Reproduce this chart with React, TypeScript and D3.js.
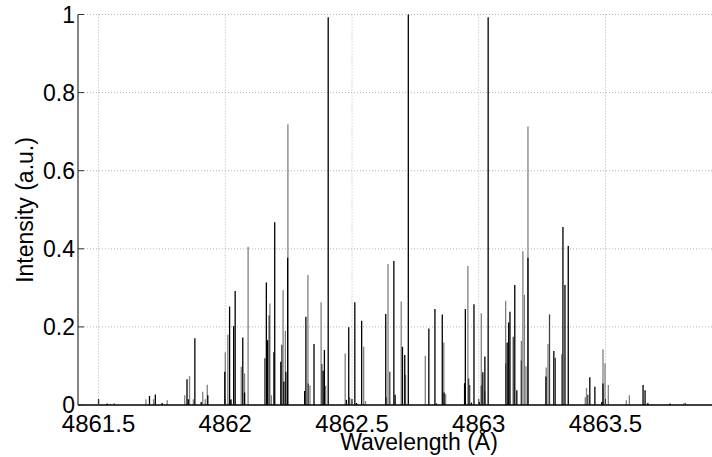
import React from "react";
import * as d3 from "d3";

const blackWl = [4861.500, 4861.534, 4861.701, 4861.724, 4861.751, 4861.849, 4861.854, 4861.880, 4861.905, 4861.931, 4861.998, 4862.017, 4862.022, 4862.033, 4862.039, 4862.069, 4862.076, 4862.162, 4862.167, 4862.195, 4862.219, 4862.231, 4862.239, 4862.246, 4862.313, 4862.318, 4862.350, 4862.386, 4862.391, 4862.406, 4862.478, 4862.487, 4862.511, 4862.518, 4862.538, 4862.633, 4862.665, 4862.670, 4862.699, 4862.708, 4862.722, 4862.803, 4862.827, 4862.833, 4862.856, 4862.863, 4862.944, 4862.947, 4862.971, 4862.981, 4863.002, 4863.016, 4863.024, 4863.037, 4863.112, 4863.118, 4863.123, 4863.142, 4863.150, 4863.194, 4863.265, 4863.296, 4863.332, 4863.340, 4863.353, 4863.438, 4863.458, 4863.485, 4863.490, 4863.648, 4863.656, 4863.667, 4863.754];
const blackInt = [0.015, 0.004, 0.023, 0.027, 0.005, 0.066, 0.015, 0.171, 0.008, 0.025, 0.085, 0.252, 0.015, 0.202, 0.292, 0.173, 0.032, 0.314, 0.166, 0.468, 0.111, 0.060, 0.085, 0.377, 0.036, 0.226, 0.156, 0.088, 0.141, 0.993, 0.013, 0.199, 0.263, 0.005, 0.216, 0.233, 0.369, 0.026, 0.149, 0.128, 1.000, 0.196, 0.246, 0.004, 0.232, 0.032, 0.056, 0.246, 0.006, 0.258, 0.008, 0.084, 0.124, 0.993, 0.160, 0.211, 0.239, 0.307, 0.038, 0.377, 0.073, 0.138, 0.456, 0.307, 0.407, 0.071, 0.047, 0.008, 0.055, 0.051, 0.038, 0.005, 0.004];

const grayWl = [4861.546, 4861.562, 4861.687, 4861.717, 4861.771, 4861.840, 4861.859, 4861.874, 4861.911, 4861.921, 4861.929, 4862.000, 4862.010, 4862.023, 4862.063, 4862.076, 4862.090, 4862.176, 4862.182, 4862.228, 4862.237, 4862.247, 4862.326, 4862.334, 4862.378, 4862.396, 4862.473, 4862.491, 4862.499, 4862.546, 4862.553, 4862.636, 4862.642, 4862.694, 4862.711, 4862.789, 4862.862, 4862.869, 4862.957, 4863.010, 4863.024, 4863.106, 4863.168, 4863.174, 4863.180, 4863.186, 4863.194, 4863.266, 4863.273, 4863.327, 4863.420, 4863.425, 4863.490, 4863.498, 4863.511, 4863.582, 4863.594, 4863.810, 4863.815];
const grayInt = [0.003, 0.005, 0.015, 0.015, 0.012, 0.025, 0.074, 0.015, 0.034, 0.015, 0.052, 0.135, 0.180, 0.012, 0.098, 0.081, 0.405, 0.260, 0.025, 0.294, 0.190, 0.719, 0.333, 0.050, 0.263, 0.049, 0.132, 0.019, 0.015, 0.149, 0.010, 0.020, 0.361, 0.265, 0.077, 0.126, 0.160, 0.028, 0.356, 0.235, 0.035, 0.267, 0.164, 0.394, 0.282, 0.099, 0.713, 0.096, 0.156, 0.130, 0.020, 0.044, 0.143, 0.107, 0.051, 0.012, 0.025, 0.005, 0.006];

const darkWl = [4862.156, 4862.173, 4862.191, 4862.223, 4862.327, 4862.381, 4862.649, 4862.960, 4862.964, 4863.010, 4863.106, 4863.136, 4863.168, 4863.279, 4863.302, 4863.430];
const darkInt = [0.120, 0.230, 0.135, 0.154, 0.055, 0.105, 0.085, 0.068, 0.051, 0.050, 0.107, 0.175, 0.114, 0.232, 0.121, 0.026];

const xTicks = [4861.5, 4862, 4862.5, 4863, 4863.5];
const xTickLabels = ["4861.5", "4862", "4862.5", "4863", "4863.5"];
const yTicks = [0, 0.2, 0.4, 0.6, 0.8, 1];
const yTickLabels = ["0", "0.2", "0.4", "0.6", "0.8", "1"];

const W = 712;
const H = 457;
const left = 78;
const right = 712;
const top = 14.5;
const bottom = 405;
const font = "'Liberation Sans', Arial, Helvetica, sans-serif";

export default function App() {
  const x = d3.scaleLinear().domain([4861.419, 4863.92]).range([left, right]);
  const y = d3.scaleLinear().domain([0, 1]).range([bottom, top]);

  const sticks = (wl: number[], vals: number[], color: string, w: number, key: string) =>
    wl.map((d, i) => (
      <line
        key={key + i}
        x1={x(d)}
        x2={x(d)}
        y1={y(0)}
        y2={y(vals[i])}
        stroke={color}
        strokeWidth={w}
      />
    ));

  return (
    <svg
      width={W}
      height={H}
      style={{ position: "absolute", left: 0, top: 0, background: "#fff" }}
    >
      <rect x={0} y={0} width={W} height={H} fill="#fff" />
      {/* grid */}
      {xTicks.map((t, i) => (
        <line key={"gx" + i} x1={x(t)} x2={x(t)} y1={top} y2={bottom} stroke="#b4b4b4" strokeWidth={1} strokeDasharray="1,2" />
      ))}
      {yTicks.slice(1).map((t, i) => (
        <line key={"gy" + i} x1={left} x2={right} y1={y(t)} y2={y(t)} stroke="#b4b4b4" strokeWidth={1} strokeDasharray="1,2" />
      ))}
      {/* sticks */}
      {sticks(grayWl, grayInt, "#808080", 1.3, "g")}
      {sticks(darkWl, darkInt, "#404040", 1.3, "d")}
      {sticks(blackWl, blackInt, "#000", 1.3, "b")}
      {/* axes */}
      <line x1={left} x2={left} y1={top} y2={bottom} stroke="#333" strokeWidth={1.2} />
      <line x1={left} x2={right} y1={bottom} y2={bottom} stroke="#000" strokeWidth={1.4} />
      {yTicks.map((t, i) => (
        <line key={"yt" + i} x1={left} x2={left + 6} y1={y(t)} y2={y(t)} stroke="#333" strokeWidth={1} />
      ))}
      {xTicks.map((t, i) => (
        <line key={"xt" + i} x1={x(t)} x2={x(t)} y1={bottom} y2={bottom - 6} stroke="#333" strokeWidth={1} />
      ))}
      {yTicks.map((t, i) => (
        <text key={"yl" + i} x={75} y={y(t)} dy="0.35em" textAnchor="end" fontFamily={font} fontSize={23} fill="#000">
          {yTickLabels[i]}
        </text>
      ))}
      {xTicks.map((t, i) => (
        <text key={"xl" + i} x={x(t)} y={431.5} textAnchor="middle" fontFamily={font} fontSize={24} fill="#000">
          {xTickLabels[i]}
        </text>
      ))}
      <text x={419} y={450} textAnchor="middle" fontFamily={font} fontSize={23} fill="#000">
        Wavelength (Å)
      </text>
      <text transform="translate(33,210) rotate(-90)" textAnchor="middle" fontFamily={font} fontSize={23} fill="#000">
        Intensity (a.u.)
      </text>
    </svg>
  );
}
